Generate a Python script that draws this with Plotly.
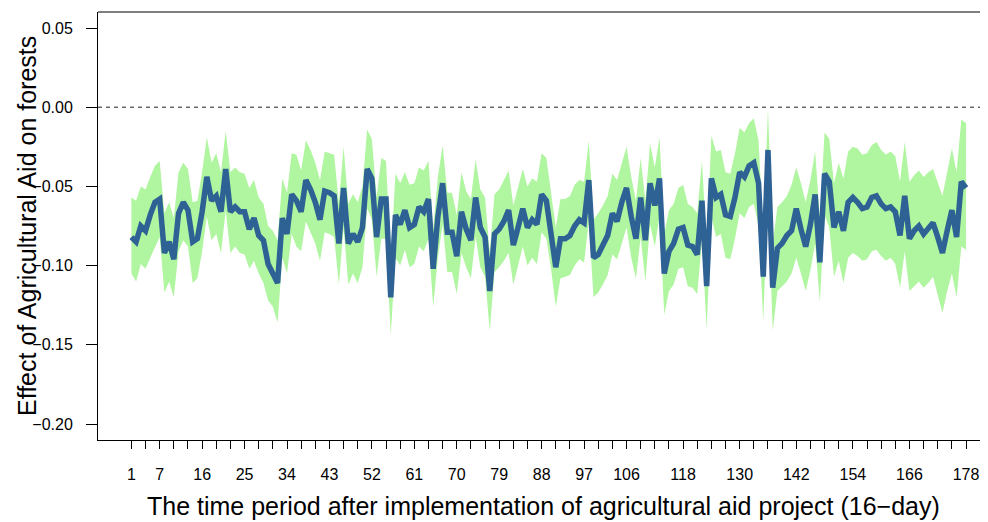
import plotly.graph_objects as go

periods = list(range(1, 179))

effect = [
    -0.082, -0.085, -0.075, -0.078, -0.068, -0.060, -0.058, -0.092, -0.085, -0.096,
    -0.067, -0.060, -0.065, -0.085, -0.083, -0.066, -0.044, -0.059, -0.056, -0.066,
    -0.039, -0.066, -0.063, -0.066, -0.066, -0.077, -0.070, -0.081, -0.084, -0.099,
    -0.105, -0.111, -0.070, -0.080, -0.055, -0.059, -0.066, -0.046, -0.052, -0.060,
    -0.071, -0.053, -0.054, -0.056, -0.086, -0.051, -0.086, -0.080, -0.085, -0.076,
    -0.039, -0.045, -0.082, -0.058, -0.058, -0.120, -0.068, -0.074, -0.065, -0.076,
    -0.074, -0.063, -0.066, -0.058, -0.102, -0.069, -0.048, -0.079, -0.079, -0.094,
    -0.066, -0.077, -0.084, -0.057, -0.076, -0.082, -0.116, -0.080, -0.077, -0.072,
    -0.065, -0.087, -0.076, -0.064, -0.076, -0.071, -0.074, -0.055, -0.059, -0.078,
    -0.101, -0.083, -0.083, -0.081, -0.075, -0.071, -0.073, -0.046, -0.095, -0.093,
    -0.087, -0.081, -0.067, -0.072, -0.060, -0.051, -0.069, -0.083, -0.057, -0.084,
    -0.048, -0.062, -0.045, -0.105, -0.091, -0.086, -0.077, -0.076, -0.087, -0.088,
    -0.093, -0.059, -0.113, -0.045, -0.057, -0.055, -0.068, -0.069, -0.057, -0.041,
    -0.044, -0.037, -0.035, -0.048, -0.107, -0.027, -0.114, -0.089, -0.086, -0.081,
    -0.078, -0.064, -0.077, -0.088, -0.074, -0.055, -0.098, -0.042, -0.047, -0.076,
    -0.066, -0.078, -0.060, -0.057, -0.060, -0.064, -0.063, -0.057, -0.056, -0.061,
    -0.064, -0.063, -0.066, -0.081, -0.056, -0.083, -0.078, -0.075, -0.080, -0.077,
    -0.073, -0.082, -0.092, -0.078, -0.065, -0.082, -0.047, -0.051,
]

upper = [
    -0.057, -0.059, -0.050, -0.052, -0.044, -0.037, -0.034, -0.067, -0.060, -0.070,
    -0.041, -0.035, -0.039, -0.060, -0.059, -0.041, -0.019, -0.035, -0.029, -0.041,
    -0.015, -0.041, -0.038, -0.041, -0.042, -0.051, -0.046, -0.057, -0.061, -0.075,
    -0.078, -0.084, -0.045, -0.054, -0.029, -0.030, -0.040, -0.021, -0.027, -0.035,
    -0.046, -0.028, -0.029, -0.030, -0.061, -0.025, -0.061, -0.055, -0.060, -0.050,
    -0.014, -0.020, -0.057, -0.032, -0.034, -0.095, -0.042, -0.048, -0.041, -0.049,
    -0.048, -0.038, -0.040, -0.034, -0.077, -0.044, -0.024, -0.054, -0.054, -0.068,
    -0.041, -0.053, -0.058, -0.033, -0.052, -0.057, -0.092, -0.055, -0.052, -0.046,
    -0.040, -0.062, -0.050, -0.039, -0.050, -0.045, -0.047, -0.029, -0.032, -0.053,
    -0.076, -0.058, -0.058, -0.056, -0.049, -0.046, -0.047, -0.021, -0.071, -0.067,
    -0.062, -0.056, -0.042, -0.046, -0.036, -0.025, -0.044, -0.059, -0.032, -0.059,
    -0.023, -0.038, -0.019, -0.080, -0.065, -0.061, -0.051, -0.049, -0.061, -0.063,
    -0.067, -0.034, -0.087, -0.018, -0.028, -0.027, -0.041, -0.042, -0.029, -0.013,
    -0.016, -0.010, -0.007, -0.021, -0.080, -0.001, -0.086, -0.063, -0.060, -0.056,
    -0.049, -0.038, -0.048, -0.060, -0.046, -0.028, -0.070, -0.016, -0.020, -0.048,
    -0.035, -0.045, -0.028, -0.025, -0.026, -0.030, -0.029, -0.024, -0.022, -0.027,
    -0.030, -0.028, -0.031, -0.047, -0.022, -0.047, -0.043, -0.040, -0.044, -0.041,
    -0.039, -0.047, -0.056, -0.041, -0.026, -0.041, -0.008, -0.010,
]

lower = [
    -0.105, -0.110, -0.099, -0.102, -0.095, -0.088, -0.082, -0.117, -0.110, -0.120,
    -0.091, -0.084, -0.088, -0.111, -0.108, -0.091, -0.069, -0.084, -0.080, -0.092,
    -0.065, -0.092, -0.088, -0.092, -0.093, -0.102, -0.097, -0.105, -0.111, -0.122,
    -0.126, -0.136, -0.095, -0.105, -0.080, -0.088, -0.091, -0.072, -0.079, -0.086,
    -0.097, -0.079, -0.080, -0.082, -0.112, -0.076, -0.112, -0.105, -0.111, -0.101,
    -0.064, -0.071, -0.107, -0.083, -0.083, -0.144, -0.095, -0.100, -0.090, -0.101,
    -0.099, -0.088, -0.091, -0.083, -0.126, -0.095, -0.074, -0.104, -0.104, -0.118,
    -0.092, -0.101, -0.108, -0.082, -0.101, -0.107, -0.141, -0.104, -0.101, -0.097,
    -0.092, -0.112, -0.100, -0.088, -0.100, -0.095, -0.099, -0.079, -0.083, -0.102,
    -0.126, -0.108, -0.107, -0.106, -0.100, -0.096, -0.098, -0.072, -0.120, -0.117,
    -0.112, -0.106, -0.093, -0.096, -0.086, -0.076, -0.095, -0.108, -0.082, -0.110,
    -0.074, -0.088, -0.069, -0.131, -0.116, -0.112, -0.102, -0.101, -0.113, -0.114,
    -0.118, -0.084, -0.140, -0.069, -0.082, -0.080, -0.095, -0.096, -0.083, -0.067,
    -0.070, -0.063, -0.061, -0.075, -0.135, -0.053, -0.141, -0.116, -0.113, -0.110,
    -0.105, -0.095, -0.105, -0.116, -0.103, -0.086, -0.123, -0.068, -0.076, -0.107,
    -0.097, -0.111, -0.095, -0.092, -0.094, -0.097, -0.096, -0.091, -0.090, -0.094,
    -0.097, -0.095, -0.099, -0.114, -0.091, -0.116, -0.113, -0.110, -0.114, -0.111,
    -0.107, -0.118, -0.130, -0.116, -0.105, -0.120, -0.088, -0.090,
]

x_tick_vals = list(range(1, 179, 3))
x_tick_shown = [1, 7, 16, 25, 34, 43, 52, 61, 70, 79, 88, 97, 106, 118, 130, 142, 154, 166, 178]
x_tick_text = [str(v) if v in x_tick_shown else "" for v in x_tick_vals]

y_tick_vals = [0.05, 0.00, -0.05, -0.10, -0.15, -0.20]
y_tick_text = ["0.05", "0.00", "\u22120.05", "\u22120.10", "\u22120.15", "\u22120.20"]

x_title = "The time period after implementation of agricultural aid project (16\u2212day)"
y_title = "Effect of Agricultural Aid on forests"

FONT = "Liberation Sans, Arial, Helvetica, sans-serif"

fig = go.Figure()
fig.add_trace(go.Scatter(x=periods, y=lower, mode="lines", line=dict(width=0),
                         hoverinfo="skip", showlegend=False))
fig.add_trace(go.Scatter(x=periods, y=upper, mode="lines", line=dict(width=0),
                         fill="tonexty", fillcolor="rgb(176,245,160)",
                         hoverinfo="skip", showlegend=False))
fig.add_trace(go.Scatter(x=periods, y=effect, mode="lines",
                         line=dict(color="#2E6194", width=5.5),
                         showlegend=False))

# dashed zero reference line
fig.add_shape(type="line", xref="paper", x0=0, x1=1, yref="y", y0=0, y1=0,
              line=dict(color="#222222", width=1, dash="4px,4px"))
# top frame line
fig.add_shape(type="line", xref="paper", x0=0, x1=1, yref="paper", y0=1, y1=1,
              line=dict(color="black", width=1))

fig.add_annotation(text=x_title, xref="paper", yref="paper", x=0.5, y=0,
                   yshift=-66, xanchor="center", yanchor="middle", showarrow=False,
                   font=dict(size=25, family=FONT, color="black"))
fig.add_annotation(text=y_title, xref="paper", yref="paper", x=0, y=0.5,
                   xshift=-71, xanchor="center", yanchor="middle", textangle=-90,
                   showarrow=False, font=dict(size=25, family=FONT, color="black"))

# the page adds an 8px body margin, so the figure is 980x514 placed at (8, 8)
fig.update_layout(
    width=980, height=514,
    margin=dict(l=90, r=0, t=4, b=82, autoexpand=False),
    paper_bgcolor="white", plot_bgcolor="white",
    font=dict(family=FONT, color="black"),
    xaxis=dict(
        range=[-6.08, 182.66], tickmode="array",
        tickvals=x_tick_vals, ticktext=x_tick_text,
        ticks="outside", ticklen=8, tickwidth=1, tickcolor="black",
        showline=True, linecolor="black", linewidth=1,
        showgrid=False, zeroline=False, automargin=False,
        tickfont=dict(size=16, family=FONT),
        ticklabelstandoff=12,
    ),
    yaxis=dict(
        range=[-0.2101, 0.0601], tickmode="array",
        tickvals=y_tick_vals, ticktext=y_tick_text,
        ticks="outside", ticklen=11, tickwidth=1, tickcolor="black",
        showline=True, linecolor="black", linewidth=1,
        showgrid=False, zeroline=False, automargin=False,
        tickfont=dict(size=16, family=FONT),
        ticklabelstandoff=10,
    ),
)

fig.write_html("out.html")
